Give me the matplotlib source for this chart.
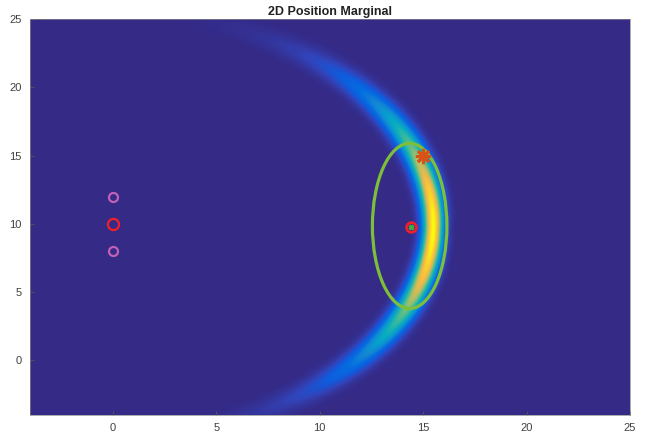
import numpy as np
import matplotlib
matplotlib.use("Agg")
import matplotlib.pyplot as plt
from matplotlib.colors import LinearSegmentedColormap
from matplotlib.patches import Ellipse

plt.rcParams['font.family'] = ['Liberation Sans', 'DejaVu Sans']

# parula-like colormap (sampled anchors)
PARULA = [
    (0.2081, 0.1663, 0.5292), (0.1959, 0.2645, 0.7279), (0.0591, 0.3598, 0.8683),
    (0.0165, 0.4266, 0.8786), (0.0793, 0.5200, 0.8312), (0.0265, 0.6137, 0.8135),
    (0.0384, 0.6743, 0.7436), (0.1801, 0.7177, 0.6424), (0.3482, 0.7424, 0.5473),
    (0.6099, 0.7473, 0.4337), (0.8185, 0.7327, 0.3498), (0.9739, 0.7314, 0.2666),
    (0.9788, 0.8271, 0.1633), (0.9763, 0.9831, 0.0538),
]
cmap = LinearSegmentedColormap.from_list("parula", PARULA, N=256)

# scene values
sensor_x = [0, 0, 0]
sensor_y = [12, 10, 8]
sensor_col = ["#C060B8", "#F0202A", "#C060B8"]
est_xy = (14.4, 9.8)
truth_xy = (15.0, 15.0)
ell_center = (14.35, 9.85)
ell_w, ell_h = 3.6, 12.1

# ring-shaped marginal: range likelihood around the middle sensor
ring_c = (0.0, 10.0)
ring_r = 15.5
ring_sig = 0.34       # radial spread at the peak
ring_sig_grow = 0.18  # extra radial spread per radian away from the peak
ang_mu = -0.03
ang_sig = 0.42

xs = np.linspace(-4, 25, 600)
ys = np.linspace(-4, 25, 600)
X, Y = np.meshgrid(xs, ys)
R = np.hypot(X - ring_c[0], Y - ring_c[1])
TH = np.arctan2(Y - ring_c[1], X - ring_c[0])
sig_r = ring_sig + ring_sig_grow * np.abs(TH - ang_mu)
Z = np.exp(-(R - ring_r) ** 2 / (2 * sig_r ** 2)) * np.exp(-(TH - ang_mu) ** 2 / (2 * ang_sig ** 2))
Z = Z / Z.max()

fig = plt.figure(figsize=(6.51, 4.41), dpi=100)
ax = fig.add_axes([30 / 651, 26 / 441, 600 / 651, 396 / 441])
ax.imshow(Z, extent=(-4, 25, -4, 25), origin="lower", cmap=cmap, aspect="auto",
          interpolation="bilinear", vmin=0, vmax=1)

ax.add_patch(Ellipse(ell_center, ell_w, ell_h, fill=False, ec="#7DBF3A", lw=2.3, zorder=3))

for x, y, c in zip(sensor_x, sensor_y, sensor_col):
    ms = 8 if c == "#F0202A" else 6.5
    ax.plot(x, y, "o", mfc="none", mec=c, ms=ms, mew=1.6, zorder=4)

ax.plot(*est_xy, "o", mfc="none", mec="#F0202A", ms=7, mew=2, zorder=4)
ax.plot(*est_xy, "x", color="#3CB043", ms=3.5, mew=2, zorder=5)
ax.plot(*truth_xy, marker=(8, 2, 0), color="#D95319", ms=11, mew=2, ls="none", zorder=5)

ax.set_xlim(-4, 25)
ax.set_ylim(-4, 25)
ax.set_xticks(range(0, 26, 5))
ax.set_yticks(range(0, 26, 5))
ax.tick_params(direction="in", length=3, width=0.6, colors="#555555", labelsize=8,
               labelcolor="#404040", pad=6)
for s in ax.spines.values():
    s.set_linewidth(0.5)
    s.set_color("#888888")
ax.set_title("2D Position Marginal", fontsize=9, fontweight="bold", color="#222222", pad=3)

fig.savefig("out.png", dpi=100)
